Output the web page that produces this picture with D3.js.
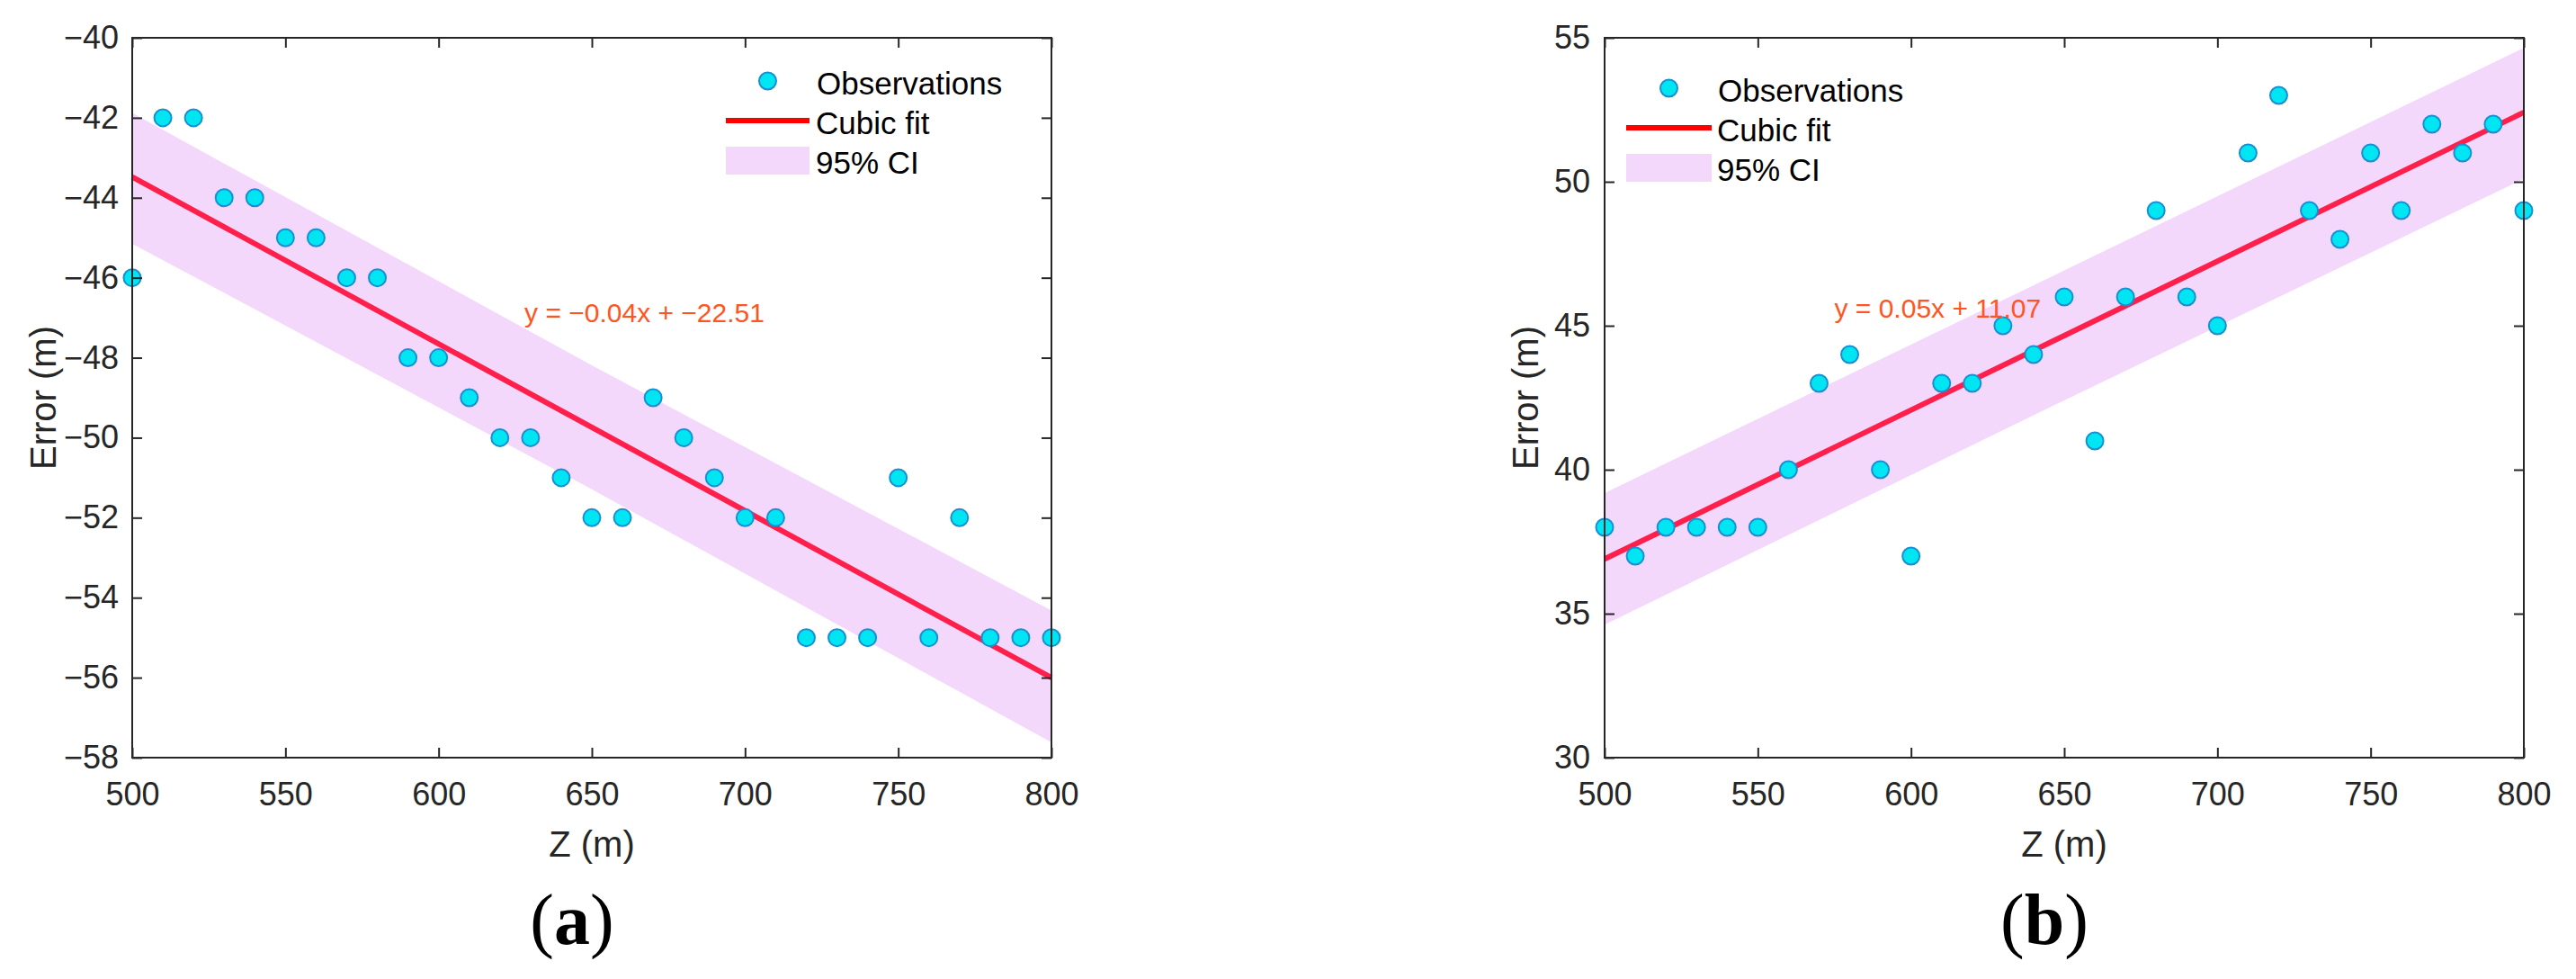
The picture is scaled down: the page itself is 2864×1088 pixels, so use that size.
<!DOCTYPE html>
<html>
<head>
<meta charset="utf-8">
<script src="https://cdn.jsdelivr.net/npm/d3@7/dist/d3.min.js"></script>
<style>
  html, body { margin: 0; padding: 0; background: #ffffff; }
  svg { display: block; }
</style>
</head>
<body>
<svg id="chart" width="2864" height="1088"></svg>
<script>
// ---------------- DATA ----------------
const zValues = [500,510,520,530,540,550,560,570,580,590,600,610,620,630,640,650,660,670,680,690,700,710,720,730,740,750,760,770,780,790,800];
const errorA = [-46,-42,-42,-44,-44,-45,-45,-46,-46,-48,-48,-49,-50,-50,-51,-52,-52,-49,-50,-51,-52,-52,-55,-55,-55,-51,-55,-52,-55,-55,-55];
const errorB = [38,37,38,38,38,38,40,43,44,40,37,43,43,45,44,46,41,46,49,46,45,51,53,49,48,51,49,52,51,52,49];

const fitX = [500, 800];
const fitA = [-43.48, -56.0];
const fitB = [36.9, 52.41];

const ciX = [500, 650, 800];
const ciUpperA = [-41.88, -48.19, -54.32];
const ciLowerA = [-45.15, -51.29, -57.62];
const ciUpperB = [39.19, 46.92, 54.65];
const ciLowerB = [34.62, 42.41, 50.10];

const xTicks = [500, 550, 600, 650, 700, 750, 800];
const yTicksA = [-58, -56, -54, -52, -50, -48, -46, -44, -42, -40];
const yTicksB = [30, 35, 40, 45, 50, 55];

const xDomain = [500, 800];
const yDomainA = [-58, -40];
const yDomainB = [30, 55];

const equationA = "y = \u22120.04x + \u221222.51";
const equationB = "y = 0.05x + 11.07";
const eqAnchorA = [628, -47.1];
const eqAnchorB = [575, 45.28];

const legendLabels = ["Observations", "Cubic fit", "95% CI"];
const xTitle = "Z (m)";
const yTitle = "Error (m)";
const panelLabels = ["a", "b"];

// ---------------- STYLE ----------------
const C = {
  axis: "#262626",
  text: "#262626",
  markerFill: "#00e5f2",
  markerStroke: "#1a8ed2",
  fit: "#ff1f4b",
  fitLegend: "#ff0000",
  band: "#f4d8fb",
  eq: "#ff5522"
};
const FONT = "'Liberation Sans', Arial, Helvetica, sans-serif";

const svg = d3.select("#chart");

function drawPanel(cfg) {
  const x = d3.scaleLinear().domain(xDomain).range([cfg.left, cfg.right]);
  const y = d3.scaleLinear().domain(cfg.yDomain).range([cfg.bottom, cfg.top]);
  const g = svg.append("g");

  // CI band
  const bandData = ciX.map((v, i) => ({ x: v, lo: cfg.ciLower[i], hi: cfg.ciUpper[i] }));
  g.append("path")
    .datum(bandData)
    .attr("fill", C.band)
    .attr("d", d3.area().x(d => x(d.x)).y0(d => y(d.lo)).y1(d => y(d.hi)));

  // fit line
  const fitData = fitX.map((v, i) => ({ x: v, y: cfg.fit[i] }));
  g.append("path")
    .datum(fitData)
    .attr("fill", "none")
    .attr("stroke", C.fit)
    .attr("stroke-width", 6)
    .attr("d", d3.line().x(d => x(d.x)).y(d => y(d.y)));

  // observations
  g.selectAll("circle.obs")
    .data(zValues.map((v, i) => ({ x: v, y: cfg.values[i] })))
    .join("circle")
    .attr("class", "obs")
    .attr("cx", d => x(d.x))
    .attr("cy", d => y(d.y))
    .attr("r", 9.5)
    .attr("fill", C.markerFill)
    .attr("stroke", C.markerStroke)
    .attr("stroke-width", 2);

  // axes (ticks inward, mirrored)
  const fmt = d3.format("d");
  const styleAxis = sel => {
    sel.select(".domain").remove();
    sel.selectAll(".tick line").attr("stroke", C.axis).attr("stroke-width", 2);
    sel.selectAll(".tick text").attr("fill", C.text).style("font-family", FONT).style("font-size", "36px");
  };
  g.append("g").attr("transform", `translate(0,${cfg.bottom})`)
    .call(d3.axisBottom(x).tickValues(xTicks).tickFormat(fmt).tickSizeInner(-11).tickSizeOuter(0).tickPadding(27))
    .call(styleAxis);
  g.append("g").attr("transform", `translate(0,${cfg.top})`)
    .call(d3.axisTop(x).tickValues(xTicks).tickFormat("").tickSizeInner(-11).tickSizeOuter(0))
    .call(styleAxis);
  g.append("g").attr("transform", `translate(${cfg.left},0)`)
    .call(d3.axisLeft(y).tickValues(cfg.yTicks).tickFormat(fmt).tickSizeInner(-11).tickSizeOuter(0).tickPadding(cfg.yPad))
    .call(styleAxis);
  g.append("g").attr("transform", `translate(${cfg.right},0)`)
    .call(d3.axisRight(y).tickValues(cfg.yTicks).tickFormat("").tickSizeInner(-11).tickSizeOuter(0))
    .call(styleAxis);

  // box
  g.append("rect")
    .attr("x", cfg.left).attr("y", cfg.top)
    .attr("width", cfg.right - cfg.left).attr("height", cfg.bottom - cfg.top)
    .attr("fill", "none").attr("stroke", C.axis).attr("stroke-width", 2);

  // equation
  g.append("text")
    .attr("x", x(cfg.eqAnchor[0])).attr("y", y(cfg.eqAnchor[1]))
    .attr("fill", C.eq)
    .style("font-family", FONT).style("font-size", "30px")
    .text(cfg.equation);

  // axis titles
  g.append("text")
    .attr("x", (cfg.left + cfg.right) / 2).attr("y", 952)
    .attr("text-anchor", "middle").attr("fill", C.text)
    .style("font-family", FONT).style("font-size", "40px")
    .text(xTitle);
  g.append("text")
    .attr("transform", `translate(${cfg.yTitleX},${(cfg.top + cfg.bottom) / 2}) rotate(-90)`)
    .attr("text-anchor", "middle").attr("fill", C.text)
    .style("font-family", FONT).style("font-size", "40px")
    .text(yTitle);

  // panel label
  const pl = g.append("text")
    .attr("x", cfg.labelX).attr("y", 1049)
    .attr("text-anchor", "middle").attr("fill", "#000")
    .style("font-family", "'Liberation Serif', 'Times New Roman', serif")
    .style("font-size", "80px");
  pl.append("tspan").text("(");
  pl.append("tspan").attr("font-weight", "bold").text(cfg.label);
  pl.append("tspan").text(")");

  // legend
  const L = cfg.legend;
  const lg = g.append("g");
  lg.append("circle")
    .attr("cx", (L.x0 + L.x1) / 2).attr("cy", L.y)
    .attr("r", 9.5).attr("fill", C.markerFill).attr("stroke", C.markerStroke).attr("stroke-width", 2);
  lg.append("line")
    .attr("x1", L.x0).attr("x2", L.x1).attr("y1", L.y + 44).attr("y2", L.y + 44)
    .attr("stroke", C.fitLegend).attr("stroke-width", 6);
  lg.append("rect")
    .attr("x", L.x0).attr("y", L.y + 73).attr("width", L.x1 - L.x0).attr("height", 31)
    .attr("fill", C.band);
  legendLabels.forEach((t, i) => {
    lg.append("text")
      .attr("x", i === 0 ? L.textX0 : L.textX).attr("y", L.y + 15 + i * 44)
      .attr("fill", "#000")
      .style("font-family", FONT).style("font-size", "35px")
      .text(t);
  });
}

drawPanel({
  left: 147, right: 1169, top: 42, bottom: 842,
  yDomain: yDomainA, yTicks: yTicksA, yPad: 15,
  values: errorA, fit: fitA, ciUpper: ciUpperA, ciLower: ciLowerA,
  equation: equationA, eqAnchor: eqAnchorA,
  yTitleX: 62, labelX: 636, label: panelLabels[0],
  legend: { x0: 807, x1: 900, y: 90, textX0: 908, textX: 907 }
});

drawPanel({
  left: 1784, right: 2806, top: 42, bottom: 842,
  yDomain: yDomainB, yTicks: yTicksB, yPad: 16,
  values: errorB, fit: fitB, ciUpper: ciUpperB, ciLower: ciLowerB,
  equation: equationB, eqAnchor: eqAnchorB,
  yTitleX: 1710, labelX: 2273, label: panelLabels[1],
  legend: { x0: 1808, x1: 1903, y: 98, textX0: 1910, textX: 1909 }
});
</script>
</body>
</html>
